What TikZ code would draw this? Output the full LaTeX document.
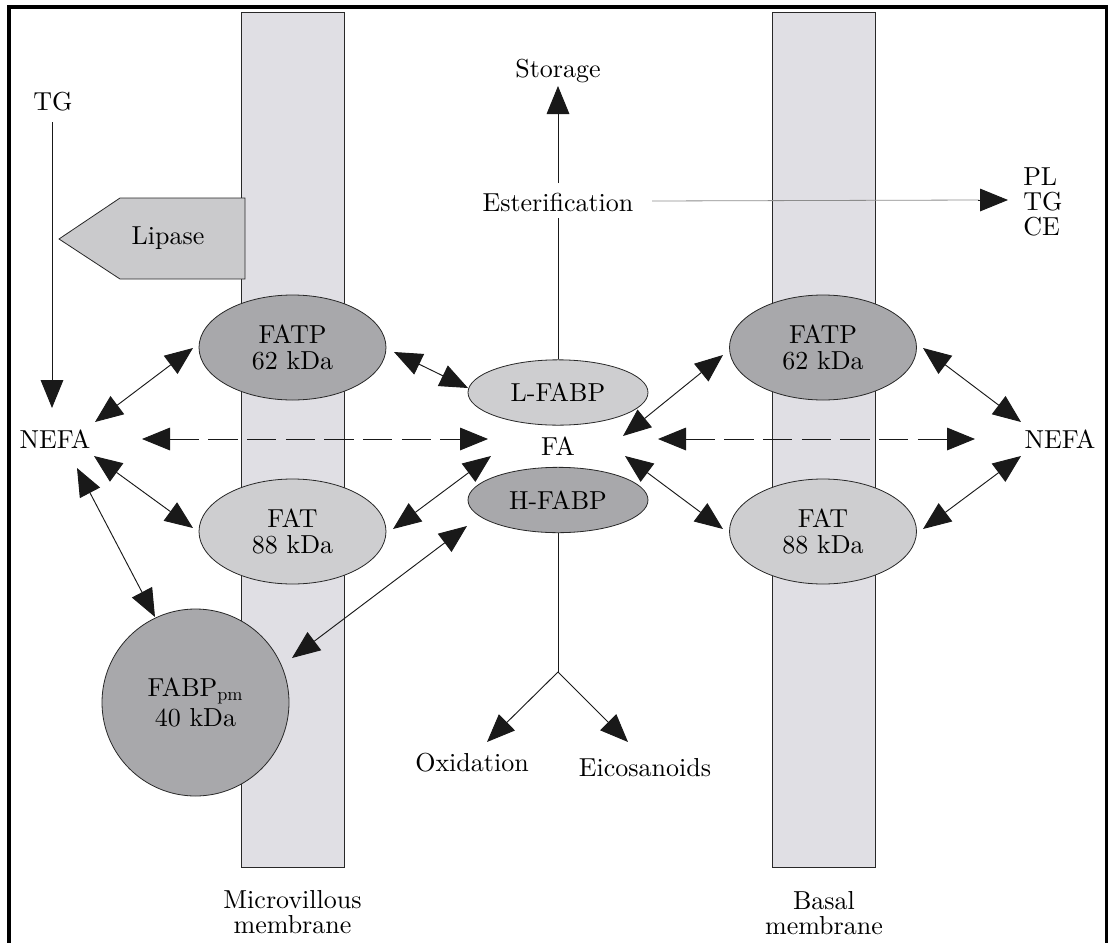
\documentclass[tikz,border=0pt]{standalone}
\usepackage{fontspec}
\setmainfont{lmroman10-regular}[Extension=.otf]
\usetikzlibrary{arrows.meta,calc,shapes.geometric}
\definecolor{membc}{RGB}{224,223,228}
\definecolor{darkc}{RGB}{168,168,171}
\definecolor{lightc}{RGB}{206,206,208}
\definecolor{lipc}{RGB}{202,202,204}
\definecolor{edgec}{RGB}{40,40,40}
\begin{document}
\begin{tikzpicture}[x=0.75pt,y=-0.75pt,
  txt/.style={font=\fontsize{19.5}{19.5}\selectfont, inner sep=0pt, align=center},
  membbox/.style={draw=edgec, line width=0.6pt, fill=membc},
  prot/.style={ellipse, draw=edgec, line width=0.6pt, inner sep=0pt,
    font=\fontsize{19.5}{19.5}\selectfont, align=center},
  bigprot/.style={prot, minimum width=140.25pt, minimum height=78.75pt},
  smallprot/.style={prot, minimum width=135pt, minimum height=49pt},
  tri/.tip={Triangle[length=21pt,width=17pt]},
  dbl/.style={tri-tri, line width=0.7pt, draw=black!90},
  sarr/.style={-tri, line width=0.7pt, draw=black!90},
  dsh/.style={tri-tri, line width=0.7pt, draw=black!90, dash pattern=on 22pt off 7pt},
  plain/.style={line width=0.7pt, draw=black!90}]
\useasboundingbox (0,0) rectangle (1108,943);
% frame
\draw[line width=2.4pt] (9,943) -- (9,7) -- (1106.5,7) -- (1106.5,943);
% membranes
\draw[membbox] (241,12) rectangle (344,867);
\draw[membbox] (772,12) rectangle (875,867);
% lipase
\draw[draw=edgec, line width=0.6pt, fill=lipc] (245,198) -- (120,198) -- (59,239) -- (120,279) -- (245,279) -- cycle;
\node[txt] (lip) at (168,238) {Lipase};
% proteins
\node[bigprot, fill=darkc] (fatpL) at (292.5,347.5) {FATP\\62 kDa};
\node[bigprot, fill=lightc] (fatL) at (292.5,531.5) {FAT\\88 kDa};
\node[bigprot, fill=darkc] (fatpR) at (823,347.5) {FATP\\62 kDa};
\node[bigprot, fill=lightc] (fatR) at (823,531.5) {FAT\\88 kDa};
\node[prot, circle, fill=darkc, minimum size=140.25pt] (fabp) at (195.5,702.5) {FABP$_{\mathrm{pm}}$\\[3pt]40 kDa};
\node[smallprot, fill=lightc] (lfabp) at (558,392.5) {L-FABP};
\node[smallprot, fill=darkc] (hfabp) at (558,500) {H-FABP};
% texts
\node[txt] (fa) at (558,446) {FA};
\node[txt] (nefaL) at (55,439) {NEFA};
\node[txt] (nefaR) at (1060,439) {NEFA};
\node[txt] (tgL) at (53,102) {TG};
\node[txt] (stor) at (558,71) {Storage};
\node[txt] (ester) at (558,202) {Esterification};
\node[txt, align=left, anchor=west, font=\fontsize{19.5}{18.75}\selectfont] (pl) at (1023,202) {PL\\TG\\CE};
\node[txt] (oxid) at (472,763) {Oxidation};
\node[txt] (eico) at (645,768) {Eicosanoids};
\node[txt, font=\fontsize{19.5}{18.75}\selectfont] (mvm) at (292.5,912) {Microvillous\\membrane};
\node[txt, font=\fontsize{19.5}{18.75}\selectfont] (bsm) at (824,913) {Basal\\membrane};
% TG -> NEFA
\draw[sarr] ($(tgL)+(-1,20)$) -- ($(nefaL)+(-3,-31)$);
% esterification
\draw[plain] (lfabp.north) -- ($(ester)+(0,16)$);
\draw[sarr] ($(ester)+(0,-19)$) -- ($(stor)+(0,15)$);
\draw[line width=0.6pt, draw=black!45] ($(ester)+(94,-1)$) -- ($(pl.west)+(-44,-2)$);
\draw[sarr] ($(pl.west)+(-45,-2)$) -- ($(pl.west)+(-15,-2)$);
% oxidation branch
\coordinate (br) at (558,672);
\draw[plain] (hfabp.south) -- (br);
\draw[sarr] (br) -- ($(oxid)+(15,-21)$);
\draw[sarr] (br) -- ($(eico)+(-17,-26)$);
% double arrows
\draw[dbl] ($(nefaL)+(40,-17)$) -- ($(fatpL)+(-99.5,0.5)$);
\draw[dbl] ($(nefaL)+(39,17)$) -- ($(fatL)+(-99.5,-3.5)$);
\draw[dbl] ($(nefaL)+(22,29)$) -- ($(fabp)+(-40.5,-85.5)$);
\draw[dbl] ($(fatpL)+(101.5,4.5)$) -- ($(lfabp)+(-90,-4.5)$);
\draw[dbl] ($(fatL)+(100.5,-2.5)$) -- ($(fa)+(-67,10)$);
\draw[dbl] ($(fabp)+(96.5,-44.5)$) -- ($(hfabp)+(-91,26)$);
\draw[dbl] ($(fa)+(65,-10)$) -- ($(fatpR)+(-100,7.5)$);
\draw[dbl] ($(fa)+(67,10)$) -- ($(fatR)+(-100,-2.5)$);
\draw[dbl] ($(fatpR)+(100,0.5)$) -- ($(nefaR)+(-39,-17)$);
\draw[dbl] ($(fatR)+(100,-2.5)$) -- ($(nefaR)+(-39,17)$);
% dashed
\draw[dsh] ($(nefaL)+(87,0)$) -- ($(fa)+(-70,-7)$);
\draw[dsh] ($(fa)+(100,-7)$) -- ($(nefaR)+(-85,0)$);
\end{tikzpicture}
\end{document}
